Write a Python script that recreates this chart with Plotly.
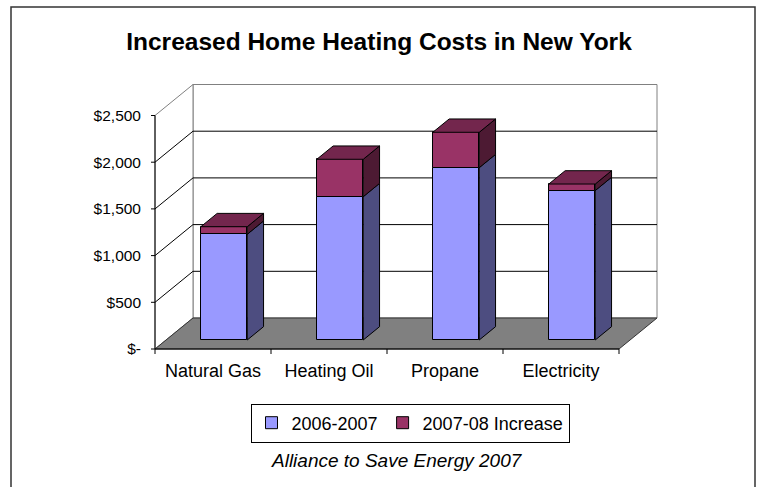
import plotly.graph_objects as go

# ---------------- data ----------------
categories = ["Natural Gas", "Heating Oil", "Propane", "Electricity"]
cost_2006_07 = [1132, 1534, 1845, 1600]
increase_2007_08 = [81, 401, 379, 70]
series_names = ["2006-2007", "2007-08 Increase"]
value_ticks = [0, 500, 1000, 1500, 2000, 2500]
value_tick_labels = ["$-", "$500", "$1,000", "$1,500", "$2,000", "$2,500"]
title_text = "Increased Home Heating Costs in New York"
source_text = "Alliance to Save Energy 2007"

# ---------------- geometry / style ----------------
W, H = 758, 487
PX_CAT = 116.0              # pixels per category (front plane)
PX_PER_DOLLAR = 46.7 / 500  # pixels per dollar
FRONT_X0 = 155              # pixel x of front-left floor corner
FRONT_Y0 = 349              # pixel y of front floor edge (value 0)
DEPTH_PX_X, DEPTH_PX_Y = 38, 31
L, R, T, B = 150, 665, 76, 356   # plot area in pixels

DX = DEPTH_PX_X / PX_CAT
DY = DEPTH_PX_Y / PX_PER_DOLLAR
D1, D2 = 0.29, 0.72         # bar front / back depth fractions
BAR_W = 0.4
VMAX = value_ticks[-1]
n = len(categories)

BLUE, BLUE_SIDE, BLUE_TOP = "#9999FF", "#4D4D80", "#7373BF"
RED, RED_SIDE, RED_TOP = "#993366", "#4D1A33", "#73264D"
FONT = "Liberation Sans, Arial, sans-serif"


def proj(x, v, d):
    return (x + d * DX, v + d * DY)


def path(points):
    s = "M {} {}".format(*points[0])
    for p in points[1:]:
        s += " L {} {}".format(*p)
    return s + " Z"


xr = [-0.5 + (L - FRONT_X0) / PX_CAT, -0.5 + (R - FRONT_X0) / PX_CAT]
yr = [(FRONT_Y0 - B) / PX_PER_DOLLAR, (FRONT_Y0 - T) / PX_PER_DOLLAR]

fig = go.Figure()

# ---------------- walls, floor, gridlines (below) ----------------
shapes = []
x_lo, x_hi = -0.5, n - 0.5
shapes.append(dict(type="path", layer="below", xref="x", yref="y",
                   path=path([proj(x_lo, 0, 1), proj(x_hi, 0, 1), proj(x_hi, VMAX, 1), proj(x_lo, VMAX, 1)]),
                   fillcolor="white", line=dict(color="#808080", width=1)))
shapes.append(dict(type="path", layer="below", xref="x", yref="y",
                   path=path([proj(x_lo, 0, 0), proj(x_lo, 0, 1), proj(x_lo, VMAX, 1), proj(x_lo, VMAX, 0)]),
                   fillcolor="white", line=dict(color="#808080", width=1)))
for v in value_ticks[1:-1]:
    a, b, c = proj(x_lo, v, 0), proj(x_lo, v, 1), proj(x_hi, v, 1)
    shapes.append(dict(type="path", layer="below", xref="x", yref="y",
                       path="M {} {} L {} {} L {} {}".format(*a, *b, *c),
                       line=dict(color="black", width=1)))
shapes.append(dict(type="path", layer="below", xref="x", yref="y",
                   path=path([proj(x_lo, 0, 0), proj(x_hi, 0, 0), proj(x_hi, 0, 1), proj(x_lo, 0, 1)]),
                   fillcolor="#808080", line=dict(color="#333333", width=1)))
# outer chart border
shapes.append(dict(type="rect", xref="paper", yref="paper",
                   x0=(11 - L) / (R - L), x1=(755 - L) / (R - L),
                   y0=(B - 500) / (B - T), y1=(B - 7) / (B - T),
                   line=dict(color="#333333", width=1.5), fillcolor="rgba(0,0,0,0)"))

# ---------------- bar front faces ----------------
xs_bar = [i + D1 * DX for i in range(n)]
fig.add_trace(go.Bar(x=xs_bar, y=cost_2006_07, base=[D1 * DY] * n, width=BAR_W,
                     marker=dict(color=BLUE, line=dict(color="black", width=1)),
                     name=series_names[0], hoverinfo="skip"))
fig.add_trace(go.Bar(x=xs_bar, y=increase_2007_08,
                     base=[D1 * DY + b for b in cost_2006_07], width=BAR_W,
                     marker=dict(color=RED, line=dict(color="black", width=1)),
                     name=series_names[1], hoverinfo="skip"))


def poly(points, color):
    xs = [p[0] for p in points] + [points[0][0]]
    ys = [p[1] for p in points] + [points[0][1]]
    fig.add_trace(go.Scatter(x=xs, y=ys, mode="lines", fill="toself", fillcolor=color,
                             line=dict(color="black", width=1), showlegend=False,
                             hoverinfo="skip"))


# ---------------- bar side and top faces ----------------
for i in range(n):
    x0, x1 = i - BAR_W / 2, i + BAR_W / 2
    segs = [(0, cost_2006_07[i], BLUE_SIDE, BLUE_TOP),
            (cost_2006_07[i], cost_2006_07[i] + increase_2007_08[i], RED_SIDE, RED_TOP)]
    for k, (lo, hi, side, top) in enumerate(segs):
        poly([proj(x1, lo, D1), proj(x1, lo, D2), proj(x1, hi, D2), proj(x1, hi, D1)], side)
        if k == len(segs) - 1:
            poly([proj(x0, hi, D1), proj(x1, hi, D1), proj(x1, hi, D2), proj(x0, hi, D2)], top)

# ---------------- axis lines and tick marks ----------------
tick_x = 4 / PX_CAT
tick_y = 5 / PX_PER_DOLLAR
ax_x, ax_y = [x_lo, x_lo], [0, VMAX]
for v in value_ticks:
    ax_x += [None, x_lo - tick_x, x_lo]
    ax_y += [None, v, v]
ax_x += [None, x_lo, x_hi]
ax_y += [None, 0, 0]
for j in range(n + 1):
    ax_x += [None, j - 0.5, j - 0.5]
    ax_y += [None, 0, -tick_y]
fig.add_trace(go.Scatter(x=ax_x, y=ax_y, mode="lines", line=dict(color="black", width=1),
                         showlegend=False, hoverinfo="skip"))

fig.update_layout(
    width=W, height=H,
    margin=dict(l=L, r=W - R, t=T, b=H - B, autoexpand=False),
    paper_bgcolor="white", plot_bgcolor="rgba(0,0,0,0)",
    barmode="overlay", bargap=0,
    shapes=shapes,
    font=dict(family=FONT, color="black"),
    title=dict(text="<b>" + title_text + "</b>", x=0.5, xanchor="center",
               y=1 - 41 / H, yanchor="middle", font=dict(size=24.5, family=FONT, color="black")),
    xaxis=dict(range=xr, tickvals=list(range(n)), ticktext=categories, showgrid=False,
               zeroline=False, showline=False, ticks="", tickfont=dict(size=18),
               ticklabelstandoff=2, fixedrange=True),
    yaxis=dict(range=yr, tickvals=value_ticks, ticktext=value_tick_labels, showgrid=False,
               zeroline=False, showline=False, ticks="", tickfont=dict(size=15.5),
               ticklabelstandoff=8, fixedrange=True),
    legend=dict(orientation="h", x=(410 - L) / (R - L), xanchor="center",
                y=(B - 423) / (B - T), yanchor="middle", bordercolor="black",
                borderwidth=1, bgcolor="white", font=dict(size=18)),
    annotations=[dict(text="<i>" + source_text + "</i>", xref="paper", yref="paper",
                      x=(397 - L) / (R - L), y=(B - 460) / (B - T), showarrow=False,
                      xanchor="center", yanchor="middle", font=dict(size=19))],
)

fig.write_html("out.html", config={"displayModeBar": False},
               post_script="document.body.style.margin='0';document.body.style.overflow='hidden';")
